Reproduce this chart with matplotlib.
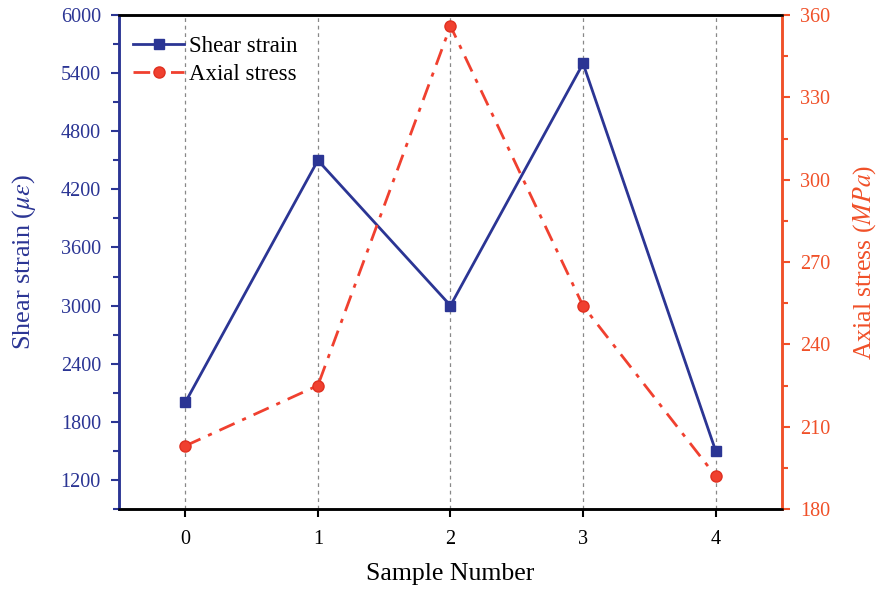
import numpy as np
import matplotlib.pyplot as plt
from matplotlib.ticker import MultipleLocator

samples = [0, 1, 2, 3, 4]
shear_strain = [2000, 4500, 3000, 5500, 1500]
axial_stress = [203, 225, 356, 254, 192]

blue = '#2B3594'
red = '#F0402F'
orange = '#F05028'

plt.rcParams['font.family'] = ['Liberation Serif', 'DejaVu Serif']
plt.rcParams['mathtext.fontset'] = 'stix'

fig = plt.figure(figsize=(8.82, 5.94), dpi=100)
ax = fig.add_axes([0.1349, 0.1431, 0.7517, 0.8316])
ax2 = ax.twinx()

l1, = ax.plot(samples, shear_strain, color=blue, lw=2, marker='s', ms=7,
              label='Shear strain', zorder=3)
l2, = ax2.plot(samples, axial_stress, color=red, lw=2, ls=(0, (6, 3, 1.5, 3)),
               marker='o', ms=8, mfc=red, mec='#E03020', label='Axial stress', zorder=3)

ax.set_xlim(-0.5, 4.5)
ax.set_ylim(900, 6000)
ax2.set_ylim(180, 360)
ax.set_xticks(samples)
ax.yaxis.set_major_locator(MultipleLocator(600))
ax.yaxis.set_minor_locator(MultipleLocator(300))
ax2.yaxis.set_major_locator(MultipleLocator(30))
ax2.yaxis.set_minor_locator(MultipleLocator(15))

for x in samples:
    ax.axvline(x, color='#888888', lw=0.9, ls=(0, (3, 3)), zorder=1)

ax.tick_params(axis='x', direction='out', length=6, width=1.5, labelsize=14.5, pad=9)
ax.tick_params(axis='y', which='major', direction='out', length=6, width=1.5,
               colors=blue, labelsize=14.5, pad=7)
ax.tick_params(axis='y', which='minor', direction='out', length=4, width=1.5, colors=blue)
ax2.tick_params(axis='y', which='major', direction='out', length=6, width=1.5,
                colors=orange, labelsize=14.5, pad=7)
ax2.tick_params(axis='y', which='minor', direction='out', length=4, width=1.5, colors=orange)

for a in (ax, ax2):
    for s in a.spines.values():
        s.set_linewidth(1.8)
ax2.spines['left'].set_color(blue)
ax2.spines['right'].set_color(orange)
ax.spines['left'].set_color(blue)
ax.spines['right'].set_color(orange)

ax.set_xlabel('Sample Number', fontsize=18.5, labelpad=10)
ax.set_ylabel(r'Shear strain ($\mu\varepsilon$)', fontsize=19, color=blue, labelpad=16)
ax2.set_ylabel(r'Axial stress ($MPa$)', fontsize=18.5, color=orange, labelpad=15)

ax.legend(handles=[l1, l2], loc='upper left', frameon=False, fontsize=16.5,
          handlelength=2.2, handletextpad=0.25, borderaxespad=0.4, labelspacing=0.3,
          bbox_to_anchor=(-0.006, 0.994))

fig.savefig('out.png', dpi=100)
